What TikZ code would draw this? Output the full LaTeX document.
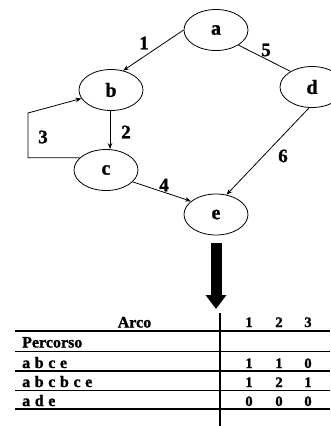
\documentclass[tikz,border=0pt]{standalone}
\usepackage{fontspec}
\setmainfont{Liberation Serif}[BoldFont={Liberation Serif Bold},BoldFeatures={FakeBold=1.2}]
\usetikzlibrary{arrows.meta,calc,shapes.geometric}

\newcommand\graphfont{\bfseries\fontsize{20}{20}\selectfont}
\newcommand\labfont{\bfseries\fontsize{19}{19}\selectfont}
\newcommand\tabfont{\bfseries\fontsize{16}{16}\selectfont\spaceskip=4.6pt\relax}
\newcommand\digfont{\bfseries\fontsize{14.5}{14.5}\selectfont}

\begin{document}
\begin{tikzpicture}[x=1pt,y=-1pt,
  vertex/.style={draw,ellipse,line width=0.8pt,minimum width=64pt,minimum height=41pt,inner sep=0pt,font=\graphfont},
  arc/.style={line width=0.8pt,-{Stealth[length=6pt,width=4.5pt]}},
  plainarc/.style={line width=0.8pt},
  arclabel/.style={font=\labfont,inner sep=0pt},
  rule/.style={line width=1.5pt},
  tabtext/.style={font=\tabfont,inner sep=0pt,anchor=base west},
  tabhead/.style={font=\tabfont,inner sep=0pt,anchor=base},
  tabnum/.style={font=\digfont,inner sep=0pt,anchor=base}]
\useasboundingbox (0,0) rectangle (330,426);

% graph vertices
\node[vertex] (a) at (216,30) {a};
\node[vertex] (b) at (111,90) {b};
\node[vertex] (c) at (106,170) {c};
\node[vertex] (d) at (312,87) {d};
\node[vertex] (e) at (216,214.5) {e};

% corners of the loop from c back to b
\coordinate (loopA) at (28,158);
\coordinate (loopB) at (28,113);

% arcs
\draw[arc] (a.west) -- (b.58);
\draw[plainarc] (a.-34) -- (d.144);
\draw[arc] (b.south -| 110,0) -- (c.north -| 110,0);
\draw[arc] (c.155) -- (c.155 -| loopA) -- (loopB) -- (b.196);
\draw[arc] (c.-24) -- (e.152);
\draw[arc] (d.-98) -- (e.62);

% arc numbers
\node[arclabel] (l1) at (144,43) {1};
\node[arclabel] (l2) at (126,132) {2};
\node[arclabel] (l3) at (43,137) {3};
\node[arclabel] (l4) at (164,185) {4};
\node[arclabel] (l5) at (266,50) {5};
\node[arclabel] (l6) at (283,156) {6};

% thick arrow down to the table
\coordinate (bigTop) at (216,243);
\coordinate (bigTip) at (216,309);
\draw[line width=11pt,-{Triangle[length=14pt,width=20pt]}] (bigTop) -- (bigTip);

% table rules
\coordinate (vTop) at (220,313);
\coordinate (vBot) at (220,426);
\draw[line width=2pt] (vTop) -- (vBot);
\foreach \yy in {331,351.5,371,390.5,409}
  \draw[rule] (15,\yy) -- (330,\yy);

% table header
\node[tabhead] (arco) at (134.5,327.5) {Arco};
\node[tabnum] (h1) at (249,327) {1};
\node[tabnum] (h2) at (279,327) {2};
\node[tabnum] (h3) at (308,327) {3};
\node[tabtext] (perc) at (22,347.5) {Percorso};

% table rows
\node[tabtext] (r1) at (22,368) {a b c e};
\node[tabnum] (r1a) at (249,368) {1};
\node[tabnum] (r1b) at (279,368) {1};
\node[tabnum] (r1c) at (308,368) {0};

\node[tabtext] (r2) at (22,387) {a b c b c e};
\node[tabnum] (r2a) at (249,387) {1};
\node[tabnum] (r2b) at (279,387) {2};
\node[tabnum] (r2c) at (308,387) {1};

\node[tabtext] (r3) at (22,406) {a d e};
\node[tabnum] (r3a) at (249,406) {0};
\node[tabnum] (r3b) at (279,406) {0};
\node[tabnum] (r3c) at (308,406) {0};
\end{tikzpicture}
\end{document}
